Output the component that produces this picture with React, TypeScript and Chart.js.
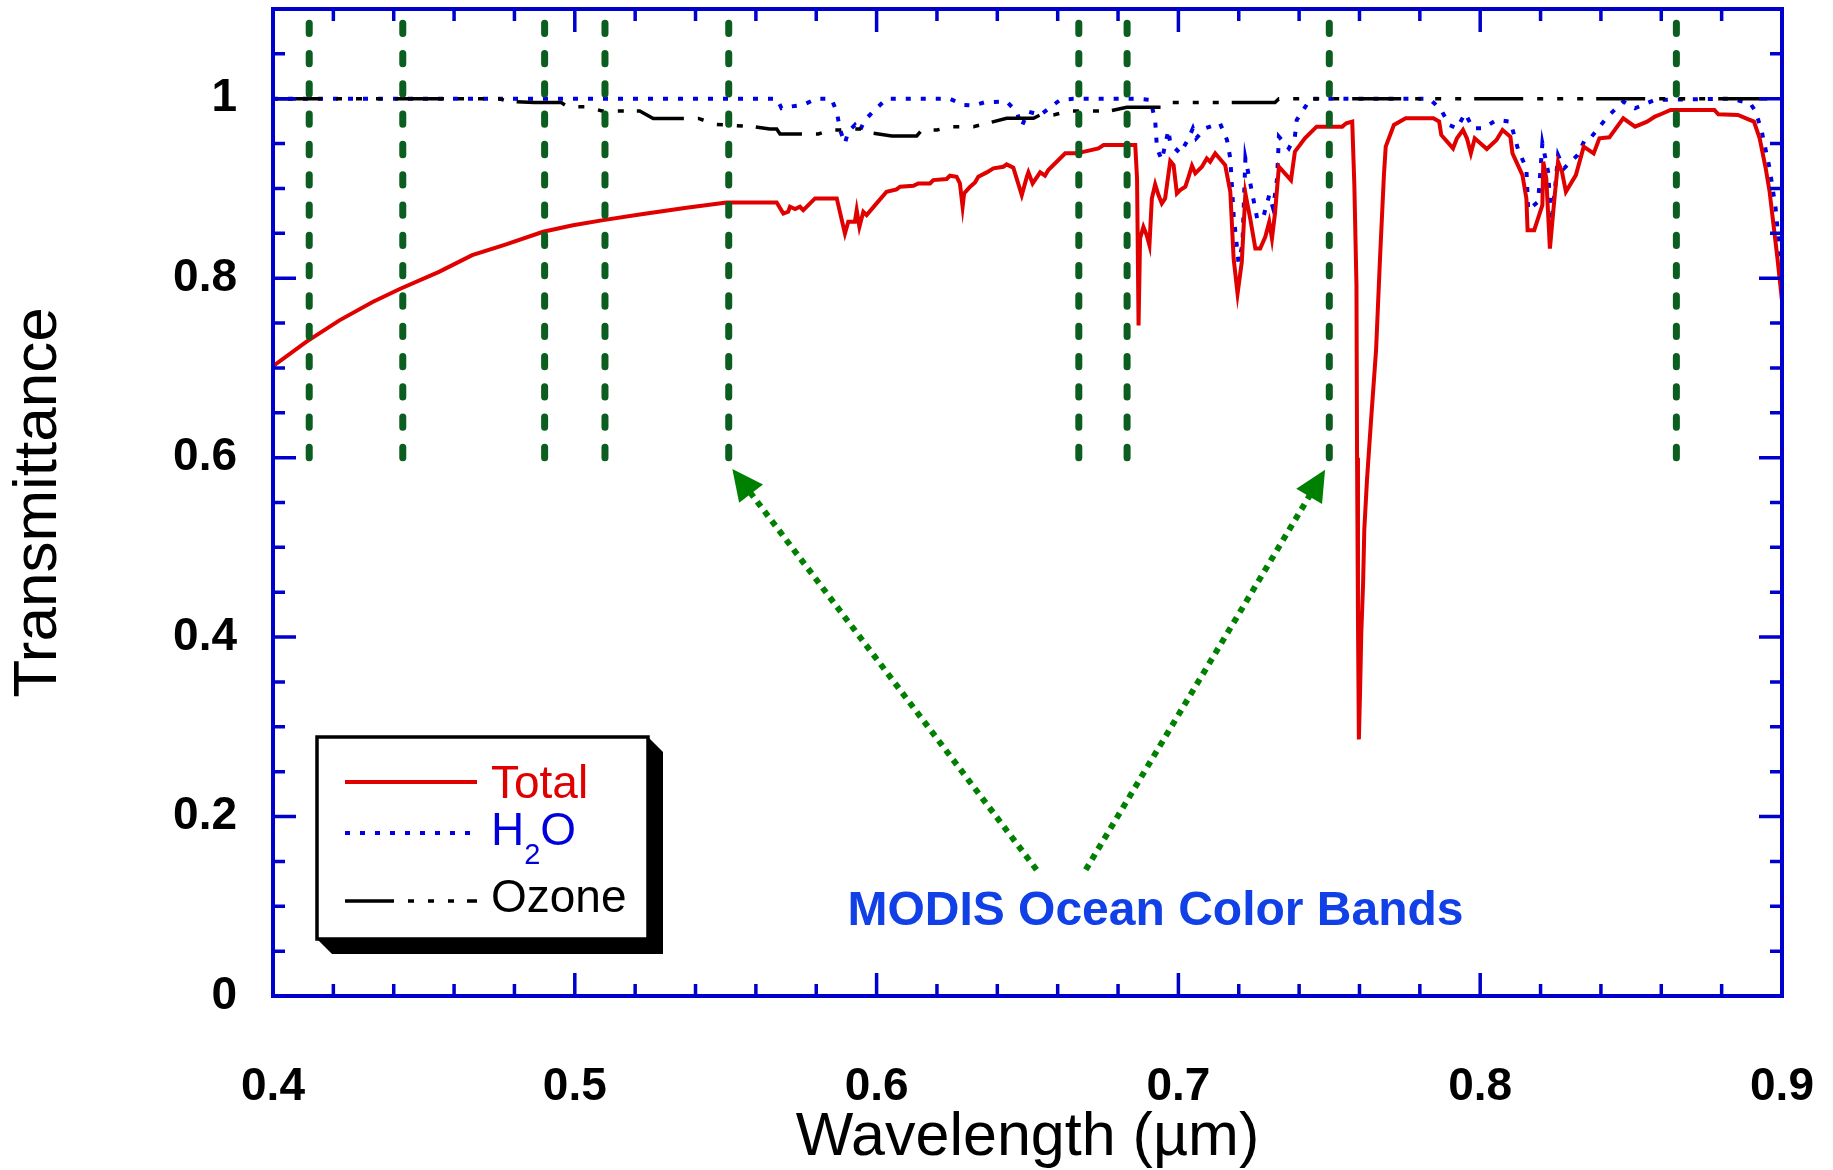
import React, { useEffect, useRef } from 'react';
import { Chart, registerables } from 'chart.js';

Chart.register(...registerables);

const FONT = '"Liberation Sans", Arial, Helvetica, sans-serif';

// ---- Data (wavelength in µm, transmittance) ----
const totalWl = [
  0.400, 0.411, 0.422, 0.433, 0.442, 0.455, 0.466, 0.477, 0.4895, 0.4994, 0.5094, 0.5215, 0.537, 0.5503,
  0.5669, 0.5691, 0.5707, 0.5713, 0.573, 0.5746, 0.5757, 0.5796, 0.5868, 0.5895, 0.5906, 0.5928, 0.5934,
  0.5943, 0.5956, 0.5967, 0.5995, 0.6033, 0.6066, 0.6078, 0.6122, 0.6138, 0.6177, 0.6188, 0.6232, 0.6243,
  0.6265, 0.6276, 0.6285, 0.629, 0.631, 0.6326, 0.6337, 0.6365, 0.6387, 0.642, 0.6431, 0.6453, 0.6481,
  0.6498, 0.6503, 0.6517, 0.6542, 0.6558, 0.6569, 0.6625, 0.6663, 0.6735, 0.6752, 0.6857, 0.6863, 0.6868,
  0.6873, 0.6884, 0.6895, 0.6904, 0.6912, 0.6923, 0.6934, 0.6945, 0.6956, 0.6973, 0.6984, 0.6995, 0.7006,
  0.7023, 0.7034, 0.7045, 0.7056, 0.7078, 0.7094, 0.7105, 0.7122, 0.7155, 0.7172, 0.7183, 0.7196, 0.721,
  0.7222, 0.7238, 0.7255, 0.7271, 0.7288, 0.7301, 0.731, 0.732, 0.7333, 0.7373, 0.7386, 0.7419, 0.7458,
  0.7543, 0.7556, 0.7576, 0.7583, 0.759, 0.7592, 0.7595, 0.7598, 0.7602, 0.7606, 0.7612, 0.7616, 0.7625,
  0.7638, 0.7655, 0.7668, 0.7681, 0.7687, 0.7714, 0.7753, 0.7845, 0.7864, 0.7871, 0.791, 0.7923, 0.7943,
  0.7956, 0.7969, 0.7982, 0.8022, 0.8054, 0.8074, 0.81, 0.8107, 0.814, 0.8153, 0.8157, 0.8179, 0.8206,
  0.8209, 0.8219, 0.8231, 0.8245, 0.8258, 0.8271, 0.8284, 0.8317, 0.8343, 0.8376, 0.8395, 0.8428, 0.8474,
  0.8513, 0.8553, 0.8579, 0.8598, 0.8631, 0.8776, 0.8789, 0.8854, 0.8881, 0.8907, 0.8926, 0.8946, 0.8959,
  0.8972, 0.8985, 0.9,
];
const totalT = [
  0.702, 0.729, 0.753, 0.7735, 0.788, 0.807, 0.8256, 0.8375, 0.8517, 0.859, 0.8647, 0.871, 0.8785, 0.8844,
  0.8844, 0.8721, 0.874, 0.8796, 0.877, 0.8796, 0.8758, 0.8889, 0.8889, 0.8498, 0.8628, 0.8628, 0.8758,
  0.8572, 0.874, 0.8703, 0.8814, 0.8963, 0.8989, 0.9019, 0.903, 0.9056, 0.9056, 0.9093, 0.9105, 0.9142,
  0.9131, 0.9056, 0.8796, 0.8945, 0.9019, 0.9067, 0.9131, 0.9179, 0.9224, 0.9242, 0.9268, 0.9231, 0.8926,
  0.9131, 0.9179, 0.9056, 0.9179, 0.9142, 0.9205, 0.9391, 0.9391, 0.9447, 0.9484, 0.9484, 0.9112, 0.7474,
  0.8442, 0.8572, 0.8479, 0.8368, 0.8889, 0.9045, 0.8926, 0.8833, 0.8889, 0.9305, 0.9261, 0.8945, 0.8982,
  0.9019, 0.9131, 0.9253, 0.9168, 0.9242, 0.9335, 0.9298, 0.9391, 0.9261, 0.8963, 0.8219, 0.7828, 0.8181,
  0.8945, 0.8665, 0.833, 0.833, 0.8461, 0.8628, 0.8442, 0.8721, 0.9242, 0.9093, 0.941, 0.9559, 0.9689,
  0.9689, 0.9726, 0.9745, 0.9038, 0.792, 0.6, 0.42, 0.286, 0.34, 0.405, 0.46, 0.52, 0.576,
  0.64, 0.72, 0.822, 0.915, 0.9466, 0.9708, 0.9782, 0.9782, 0.9745, 0.9596, 0.9447, 0.9559, 0.9652,
  0.9559, 0.9391, 0.9559, 0.944, 0.954, 0.9652, 0.9577, 0.9391, 0.9149, 0.8889, 0.8535, 0.8535, 0.8814,
  0.9298, 0.9112, 0.833, 0.8852, 0.9298, 0.9186, 0.8963, 0.9149, 0.9466, 0.9391, 0.9559, 0.957, 0.9782,
  0.9689, 0.9745, 0.9801, 0.9827, 0.9875, 0.9875, 0.9827, 0.9819, 0.9782, 0.9745, 0.9559, 0.9224, 0.8963,
  0.859, 0.8219, 0.775,
];

const h2oWl = [
  0.400, 0.567, 0.5685, 0.5713, 0.5757, 0.580, 0.585, 0.5868, 0.5879, 0.5895, 0.5906, 0.5928, 0.5943,
  0.5961, 0.600, 0.6033, 0.6243, 0.6287, 0.6321, 0.6359, 0.6431, 0.6464, 0.6481, 0.6492, 0.6503, 0.6542,
  0.6608, 0.6652, 0.6863, 0.6907, 0.6923, 0.6929, 0.6945, 0.6967, 0.6973, 0.7006, 0.7034, 0.7048, 0.7059,
  0.7089, 0.7105, 0.7138, 0.7161, 0.7172, 0.7183, 0.7199, 0.7212, 0.7222, 0.7235, 0.7261, 0.728, 0.7301,
  0.7314, 0.7327, 0.7333, 0.7366, 0.7386, 0.7392, 0.7438, 0.7832, 0.7871, 0.7897, 0.7923, 0.795, 0.7976,
  0.8009, 0.8054, 0.81, 0.8126, 0.8153, 0.8159, 0.8192, 0.8206, 0.8225, 0.8236, 0.8249, 0.8258, 0.8278,
  0.8323, 0.8349, 0.8369, 0.8422, 0.8474, 0.8513, 0.8579, 0.8828, 0.8894, 0.8913, 0.8933, 0.8959, 0.8979,
  0.8992, 0.9,
];
const h2oT = [
  1.0, 1.0, 0.9894, 0.9912, 0.9931, 1.0, 1.0, 0.9856, 0.9652, 0.9503, 0.9633, 0.9708, 0.9633,
  0.9763, 0.9894, 1.0, 1.0, 0.9931, 0.9924, 0.9961, 0.9968, 0.9856, 0.9689, 0.9782, 0.9856, 0.9819,
  0.9987, 1.0, 1.0, 0.9987, 0.9763, 0.9447, 0.9317, 0.9652, 0.9503, 0.9391, 0.9559, 0.967, 0.9559,
  0.967, 0.9689, 0.9726, 0.954, 0.9335, 0.8703, 0.8181, 0.8368, 0.9335, 0.9112, 0.8665, 0.8665, 0.8926,
  0.8777, 0.9112, 0.9577, 0.9447, 0.9577, 0.9763, 1.0, 1.0, 0.9875, 0.9708, 0.967, 0.9838, 0.967,
  0.967, 0.9763, 0.9745, 0.9428, 0.9224, 0.8758, 0.8852, 0.9503, 0.9186, 0.8628, 0.9038, 0.9373, 0.9224,
  0.9373, 0.9559, 0.9577, 0.9801, 0.9968, 0.9894, 0.9987, 1.0, 0.9952, 0.9856, 0.9633, 0.9224, 0.8777,
  0.8293, 0.81,
];

const ozoneWl = [
  0.400, 0.475, 0.478, 0.4866, 0.4955, 0.4977, 0.5038, 0.509, 0.5215, 0.526, 0.541, 0.5465, 0.5591,
  0.5646, 0.5669, 0.568, 0.5807, 0.585, 0.5879, 0.5912, 0.5945, 0.5989, 0.605, 0.6133, 0.615, 0.620,
  0.625, 0.6321, 0.6376, 0.6431, 0.652, 0.6542, 0.6586, 0.6641, 0.6774, 0.6829, 0.6956, 0.6973, 0.732,
  0.7333, 0.9,
];
const ozoneT = [
  1.0, 1.0, 0.997, 0.9957, 0.9957, 0.991, 0.991, 0.9864, 0.9864, 0.978, 0.978, 0.9715, 0.9689,
  0.9663, 0.9663, 0.9607, 0.9607, 0.9652, 0.9652, 0.9663, 0.9663, 0.9615, 0.9585, 0.9585, 0.9652, 0.9652,
  0.9689, 0.9689, 0.9734, 0.9782, 0.9782, 0.9819, 0.9819, 0.9864, 0.9864, 0.9905, 0.9905, 0.9957, 0.9957,
  1.0, 1.0,
];

const modisBands = [0.412, 0.443, 0.49, 0.51, 0.551, 0.667, 0.683, 0.75, 0.865];
const bandLineFrom = 0.6;
const xTickValues = [0.4, 0.5, 0.6, 0.7, 0.8, 0.9];
const yTickValues = [0, 0.2, 0.4, 0.6, 0.8, 1];
const seriesLabels = ['Total', 'H2O', 'Ozone'];
const annotationText = 'MODIS Ocean Color Bands';
const annotationPos = [0.6924, 0.0792];
const arrowTails = [[0.653, 0.1407], [0.6693, 0.1407]];
const arrowTips = [[0.5522, 0.5874], [0.7486, 0.5865]];

const AXIS_BLUE = '#0000CD';

const toPoints = (xs: number[], ys: number[]) => xs.map((x, i) => ({ x, y: ys[i] }));

const decorPlugin = {
  id: 'decor',
  afterDatasetsDraw(chart: any) {
    const { ctx, chartArea: ca, scales } = chart;
    const xs = scales.x;
    const ys = scales.y;
    const X = (v: number) => xs.getPixelForValue(v);
    const Y = (v: number) => ys.getPixelForValue(v);

    // MODIS band lines
    ctx.save();
    ctx.beginPath();
    ctx.rect(ca.left, ca.top, ca.right - ca.left, ca.bottom - ca.top);
    ctx.clip();
    ctx.strokeStyle = '#0B5E1F';
    ctx.lineWidth = 7;
    ctx.lineCap = 'round';
    ctx.setLineDash([10.3, 20]);
    for (const b of modisBands) {
      const px = X(b);
      ctx.beginPath();
      ctx.moveTo(px, Y(bandLineFrom));
      ctx.lineTo(px, ca.top);
      ctx.stroke();
    }
    ctx.restore();

    // Frame and ticks
    ctx.save();
    ctx.strokeStyle = AXIS_BLUE;
    ctx.lineWidth = 3.5;
    ctx.lineCap = 'butt';
    const major = 23;
    const minor = 12;
    for (let i = 1; i < 25; i++) {
      const v = 0.4 + i * 0.02;
      const len = i % 5 === 0 ? major : minor;
      const px = X(v);
      ctx.beginPath();
      ctx.moveTo(px, ca.bottom);
      ctx.lineTo(px, ca.bottom - len);
      ctx.moveTo(px, ca.top);
      ctx.lineTo(px, ca.top + len);
      ctx.stroke();
    }
    for (let i = 1; i < 22; i++) {
      const v = i * 0.05;
      const len = i % 4 === 0 ? major : minor;
      const py = Y(v);
      ctx.beginPath();
      ctx.moveTo(ca.left, py);
      ctx.lineTo(ca.left + len, py);
      ctx.moveTo(ca.right, py);
      ctx.lineTo(ca.right - len, py);
      ctx.stroke();
    }
    ctx.lineWidth = 4;
    ctx.strokeRect(ca.left, ca.top, ca.right - ca.left, ca.bottom - ca.top);
    ctx.restore();

    // Legend box
    ctx.save();
    const L = 317, T = 737, R = 648, B = 939, sh = 15;
    ctx.fillStyle = '#000';
    ctx.beginPath();
    ctx.moveTo(R, T);
    ctx.lineTo(R + sh, T + sh);
    ctx.lineTo(R + sh, B + sh);
    ctx.lineTo(L + sh, B + sh);
    ctx.lineTo(L, B);
    ctx.closePath();
    ctx.fill();
    ctx.fillStyle = '#fff';
    ctx.fillRect(L, T, R - L, B - T);
    ctx.strokeStyle = '#000';
    ctx.lineWidth = 3.5;
    ctx.strokeRect(L, T, R - L, B - T);

    const lineY = [782, 833, 901];
    const textBase = [798, 845, 912];
    const textColors = ['#E00000', '#0000DD', '#000000'];
    chart.data.datasets.forEach((ds: any, i: number) => {
      ctx.save();
      ctx.strokeStyle = ds.borderColor;
      ctx.lineWidth = ds.borderWidth;
      ctx.setLineDash(ds.borderDash || []);
      ctx.beginPath();
      ctx.moveTo(345, lineY[i]);
      ctx.lineTo(477, lineY[i]);
      ctx.stroke();
      ctx.restore();
      ctx.fillStyle = textColors[i];
      ctx.textBaseline = 'alphabetic';
      ctx.textAlign = 'left';
      const label = seriesLabels[i];
      if (label === 'H2O') {
        ctx.font = `46px ${FONT}`;
        ctx.fillText('H', 491, textBase[i]);
        const wH = ctx.measureText('H').width;
        ctx.font = `29px ${FONT}`;
        ctx.fillText('2', 491 + wH, textBase[i] + 19);
        const w2 = ctx.measureText('2').width;
        ctx.font = `46px ${FONT}`;
        ctx.fillText('O', 491 + wH + w2, textBase[i]);
      } else {
        ctx.font = `46px ${FONT}`;
        ctx.fillText(label, 491, textBase[i]);
      }
    });
    ctx.restore();

    // Arrows
    ctx.save();
    ctx.strokeStyle = '#008000';
    ctx.fillStyle = '#008000';
    ctx.lineWidth = 6;
    ctx.lineCap = 'butt';
    arrowTails.forEach((tail, i) => {
      const tip = arrowTips[i];
      const x0 = X(tail[0]), y0 = Y(tail[1]);
      const x1 = X(tip[0]), y1 = Y(tip[1]);
      const dx = x1 - x0, dy = y1 - y0;
      const d = Math.hypot(dx, dy);
      const ux = dx / d, uy = dy / d;
      const headLen = 31, headHalf = 15;
      const bx = x1 - ux * headLen, by = y1 - uy * headLen;
      ctx.setLineDash([6, 6]);
      ctx.beginPath();
      ctx.moveTo(x0, y0);
      ctx.lineTo(bx + ux * 2, by + uy * 2);
      ctx.stroke();
      ctx.setLineDash([]);
      ctx.beginPath();
      ctx.moveTo(x1, y1);
      ctx.lineTo(bx - uy * headHalf, by + ux * headHalf);
      ctx.lineTo(bx + uy * headHalf, by - ux * headHalf);
      ctx.closePath();
      ctx.fill();
    });
    ctx.restore();

    // Annotation
    ctx.save();
    ctx.fillStyle = '#1040E6';
    ctx.font = `bold 48px ${FONT}`;
    ctx.textAlign = 'center';
    ctx.textBaseline = 'alphabetic';
    ctx.fillText(annotationText, X(annotationPos[0]), Y(annotationPos[1]));
    ctx.restore();
  },
};

export default function App() {
  const canvasRef = useRef<HTMLCanvasElement | null>(null);

  useEffect(() => {
    const canvas = canvasRef.current;
    if (!canvas) return;
    const chart = new Chart(canvas, {
      type: 'line',
      data: {
        datasets: [
          {
            label: seriesLabels[0],
            data: toPoints(totalWl, totalT),
            borderColor: '#E00000',
            borderWidth: 4,
            pointRadius: 0,
            tension: 0,
            fill: false,
            order: 0,
          },
          {
            label: seriesLabels[1],
            data: toPoints(h2oWl, h2oT),
            borderColor: '#0000E6',
            borderWidth: 4,
            borderDash: [5, 10],
            pointRadius: 0,
            tension: 0,
            fill: false,
            order: 2,
          },
          {
            label: seriesLabels[2],
            data: toPoints(ozoneWl, ozoneT),
            borderColor: '#000000',
            borderWidth: 3.5,
            borderDash: [49, 14, 6, 14, 6, 14, 6, 13],
            pointRadius: 0,
            tension: 0,
            fill: false,
            order: 1,
          },
        ],
      },
      options: {
        responsive: false,
        maintainAspectRatio: false,
        devicePixelRatio: 1,
        animation: false,
        events: [],
        layout: { padding: { left: 0, right: 51, top: 9, bottom: 0 } },
        plugins: {
          legend: { display: false },
          tooltip: { enabled: false },
        },
        scales: {
          x: {
            type: 'linear',
            min: 0.4,
            max: 0.9,
            afterBuildTicks: (s: any) => {
              s.ticks = xTickValues.map((v) => ({ value: v }));
            },
            afterFit: (s: any) => {
              s.height = 174;
              s.paddingLeft = 0;
              s.paddingRight = 0;
            },
            grid: { display: false, drawTicks: false },
            border: { display: false },
            ticks: {
              padding: 64,
              color: '#000',
              font: { family: FONT, size: 46, weight: 'bold' },
              maxRotation: 0,
              autoSkip: false,
              callback: (v: any) => String(v),
            },
            title: {
              display: true,
              text: 'Wavelength (µm)',
              color: '#000',
              font: { family: FONT, size: 61 },
              padding: { top: 0, bottom: -5 },
            },
          },
          y: {
            type: 'linear',
            min: 0,
            max: 1.1,
            afterBuildTicks: (s: any) => {
              s.ticks = yTickValues.map((v) => ({ value: v }));
            },
            afterFit: (s: any) => {
              s.width = 273;
              s.paddingTop = 0;
              s.paddingBottom = 0;
            },
            grid: { display: false, drawTicks: false },
            border: { display: false },
            ticks: {
              padding: 36,
              color: '#000',
              font: { family: FONT, size: 46, weight: 'bold' },
              autoSkip: false,
              callback: (v: any) => String(v),
            },
            title: {
              display: true,
              text: 'Transmittance',
              color: '#000',
              font: { family: FONT, size: 62 },
              padding: { top: 2, bottom: 0 },
            },
          },
        },
      },
      plugins: [decorPlugin],
    } as any);
    return () => chart.destroy();
  }, []);

  return (
    <div style={{ position: 'fixed', left: 0, top: 0, width: 1833, height: 1170, background: '#fff' }}>
      <canvas ref={canvasRef} width={1833} height={1170} style={{ display: 'block' }} />
    </div>
  );
}
